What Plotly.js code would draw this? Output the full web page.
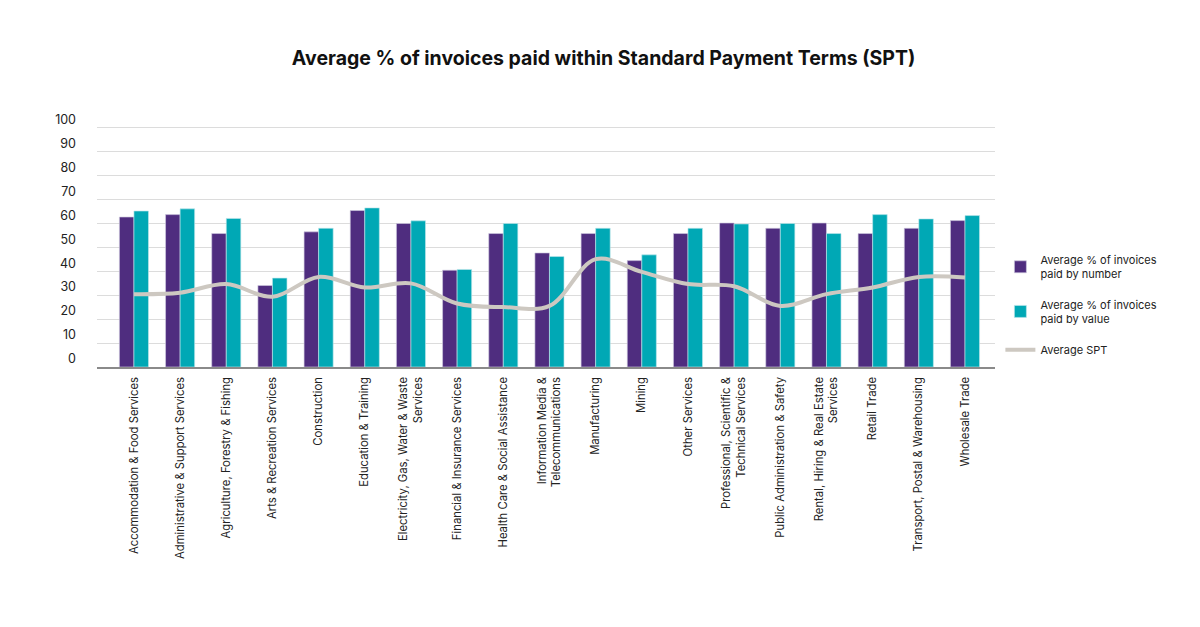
<!DOCTYPE html>
<html>
<head>
<meta charset="utf-8">
<script src="https://cdn.plot.ly/plotly-3.0.1.min.js"></script>
<style>html,body{margin:0;padding:0;background:#fff;}#chart{width:1200px;height:627px;}</style>
</head>
<body>
<div id="chart"></div>
<script>
const categories = [
  "Accommodation & Food Services",
  "Administrative & Support Services",
  "Agriculture, Forestry & Fishing",
  "Arts & Recreation Services",
  "Construction",
  "Education & Training",
  "Electricity, Gas, Water & Waste<br>Services",
  "Financial & Insurance Services",
  "Health Care & Social Assistance",
  "Information Media &<br>Telecommunications",
  "Manufacturing",
  "Mining",
  "Other Services",
  "Professional, Scientific &<br>Technical Services",
  "Public Administration & Safety",
  "Rental, Hiring & Real Estate<br>Services",
  "Retail Trade",
  "Transport, Postal & Warehousing",
  "Wholesale Trade"
];
const paidByNumber = [62.6, 63.6, 55.7, 34.0, 56.4, 65.3, 59.9, 40.4, 55.7, 47.6, 55.7, 44.4, 55.7, 60.1, 57.9, 60.1, 55.7, 57.9, 61.1];
const paidByValue  = [65.1, 66.0, 62.0, 37.1, 57.9, 66.4, 61.0, 40.7, 59.9, 46.1, 57.9, 46.8, 57.9, 59.7, 59.9, 55.7, 63.6, 61.8, 63.2];
const averageSPT   = [30.4, 31.0, 34.6, 29.3, 37.6, 33.2, 34.9, 26.5, 25.0, 25.5, 45.0, 39.7, 34.6, 33.7, 25.5, 30.4, 33.2, 37.6, 37.4];
const seriesNames = [
  "Average % of invoices<br>paid by number",
  "Average % of invoices<br>paid by value",
  "Average SPT"
];
const yTicks = [0, 10, 20, 30, 40, 50, 60, 70, 80, 90, 100];

const FONT = "Inter, 'Open Sans', sans-serif";

const traces = [
  {
    type: "bar", x: categories, y: paidByNumber, name: seriesNames[0], legendgroup: "a",
    marker: {color: "#4f2d7f", line: {color: "rgba(210,205,225,0.8)", width: 0.8}},
    hoverinfo: "skip"
  },
  {
    type: "bar", x: categories, y: paidByValue, name: seriesNames[1], legendgroup: "b",
    marker: {color: "#00a8b5", line: {color: "rgba(190,230,235,0.8)", width: 0.8}},
    hoverinfo: "skip"
  },
  {
    type: "scatter", mode: "lines", x: categories, y: averageSPT, name: seriesNames[2], legendgroup: "c",
    line: {color: "#cdc8c1", width: 4, shape: "spline", smoothing: 1},
    hoverinfo: "skip"
  }
];

const layout = {
  width: 1200, height: 627,
  margin: {l: 97, r: 205, t: 125, b: 260, pad: 0},
  paper_bgcolor: "#ffffff", plot_bgcolor: "#ffffff",
  font: {family: FONT, color: "#222222", size: 11},
  title: {
    text: "<b>Average % of invoices paid within Standard Payment Terms (SPT)</b>",
    font: {family: FONT, size: 19.5, color: "#111111"},
    x: 0.503, xanchor: "center", y: 0.907, yanchor: "middle"
  },
  barmode: "group", bargap: 0.37, bargroupgap: 0,
  xaxis: {
    type: "category", range: [-0.8, 18.65],
    tickangle: -90, ticks: "", showgrid: false,
    showline: true, linecolor: "#8a8a8a", linewidth: 1.5,
    tickfont: {family: FONT, size: 11.3, color: "#222222"},
    ticklabelstandoff: 4,
    fixedrange: true
  },
  yaxis: {
    range: [0, 101], tickvals: yTicks, ticktext: yTicks.map(String),
    showgrid: true, gridcolor: "#dcdcdc", gridwidth: 1,
    zeroline: false, showline: false, ticks: "",
    tickfont: {family: FONT, size: 12.5, color: "#222222"},
    ticklabelstandoff: 20, ticklabelshift: -8,
    fixedrange: true
  },
  showlegend: true,
  legend: {
    x: 1.006, xanchor: "left", y: 0.50, yanchor: "top",
    font: {family: FONT, size: 11, color: "#222222"},
    traceorder: "grouped", tracegroupgap: 13,
    bgcolor: "rgba(0,0,0,0)", itemwidth: 30
  }
};

Plotly.newPlot("chart", traces, layout, {displayModeBar: false, staticPlot: true});
</script>
</body>
</html>
